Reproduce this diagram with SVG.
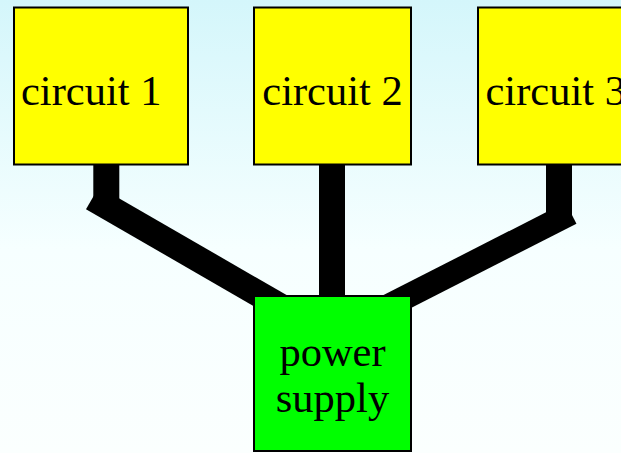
<svg xmlns="http://www.w3.org/2000/svg" width="621" height="453" viewBox="0 0 621 453">
<defs>
<linearGradient id="bg" x1="0" y1="0" x2="0" y2="1">
<stop offset="0" stop-color="#d4f6fb"/>
<stop offset="0.55" stop-color="#f6ffff"/>
<stop offset="1" stop-color="#fbfffe"/>
</linearGradient>
<style>
.box{stroke:#000;stroke-width:2}
.circ{fill:#ffff00}
.ps{fill:#00ff00}
.wire{stroke:#000;stroke-width:26;fill:none;stroke-linecap:butt}
text{font-family:"Liberation Serif","Times New Roman",serif;font-size:42.5px;fill:#000}
</style>
</defs>
<rect width="621" height="453" fill="url(#bg)"/>
<g id="connectors">
<line class="wire" x1="106.3" y1="150" x2="106.3" y2="200"/>
<line class="wire" x1="92.5" y1="198" x2="300" y2="317.8"/>
<line class="wire" x1="332" y1="150" x2="332" y2="310"/>
<line class="wire" x1="559" y1="150" x2="559" y2="215"/>
<line class="wire" x1="571" y1="213" x2="360" y2="320.5" style="stroke-width:24"/>
</g>
<g id="circuit1">
<rect class="box circ" x="14" y="7.5" width="174" height="157"/>
<text x="21" y="105">circuit 1</text>
</g>
<g id="circuit2">
<rect class="box circ" x="254" y="7.5" width="157" height="157"/>
<text x="332.5" y="105" text-anchor="middle">circuit 2</text>
</g>
<g id="circuit3">
<rect class="box circ" x="478" y="7.5" width="174" height="157"/>
<text x="485.5" y="105">circuit 3</text>
</g>
<g id="power">
<rect class="box ps" x="254" y="296" width="157" height="155"/>
<text x="332.5" y="366" text-anchor="middle">power</text>
<text x="332.5" y="412" text-anchor="middle">supply</text>
</g>
</svg>
